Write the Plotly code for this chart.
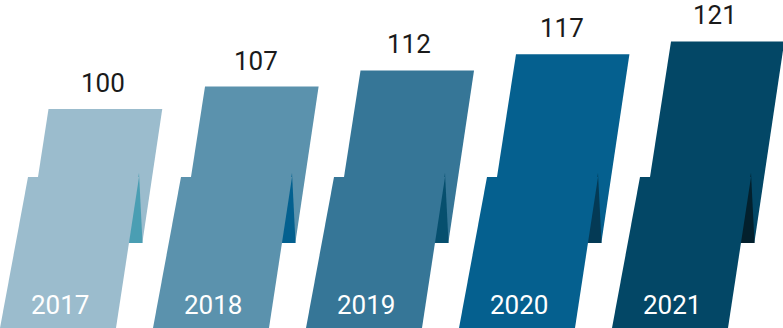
import plotly.graph_objects as go

# ---- data ----
years = ["2017", "2018", "2019", "2020", "2021"]
values = [100, 107, 112, 117, 121]
face_colors = ["#9bbccd", "#5b92ad", "#367697", "#05608f", "#034766"]
fold_colors = ["#4a9eb3", "#03608f", "#064f6e", "#043a55", "#03202d"]

# ---- layout geometry (pixels) ----
W, H = 783, 328
PITCH = 153          # horizontal distance between columns
A, B = 431.6, 3.225  # value -> pixel mapping: p = A - B*v


def vpix(v):
    return A - B * v


def pval(p):
    return (A - p) / B


STEP = 177   # pixel level where the lower block starts
BASE = 243   # pixel level of the fold base
BOT = 340    # below the visible bottom

fig = go.Figure()

for i, (yr, v) in enumerate(zip(years, values)):
    x0 = i * PITCH
    yt = vpix(v)

    def lx(y):
        return x0 + 38 + 0.155 * (STEP - y)

    def rx(y):
        return x0 + 142.3 + 0.149 * (BASE - y)

    top = [(lx(yt), yt), (rx(yt), yt), (rx(BASE), BASE), (lx(BASE), BASE)]
    tri = [(x0 + 139, 173), (x0 + 142.5, BASE), (x0 + 127, BASE)]

    def blx(y):
        return x0 + 28 - 0.1854 * (y - STEP)

    def brx(y):
        return x0 + 139 - 0.1523 * (y - STEP)

    bottom = [(blx(STEP), STEP), (brx(STEP), STEP), (brx(BOT), BOT), (blx(BOT), BOT)]

    for poly, col in ((top, face_colors[i]), (tri, fold_colors[i]), (bottom, face_colors[i])):
        xs = [p[0] for p in poly] + [poly[0][0]]
        ys = [pval(p[1]) for p in poly] + [pval(poly[0][1])]
        fig.add_trace(go.Scatter(x=xs, y=ys, mode="lines", fill="toself",
                                 fillcolor=col, line=dict(width=0),
                                 hoverinfo="skip", showlegend=False))

    fig.add_annotation(x=x0 + 103, y=pval(yt - 26), text=str(v), showarrow=False,
                       xanchor="center", yanchor="middle",
                       font=dict(family="Roboto", size=26, color="#1a1a1a"))
    fig.add_annotation(x=x0 + 60, y=pval(304.5), text=yr, showarrow=False,
                       xanchor="center", yanchor="middle",
                       font=dict(family="Roboto", size=26, color="#ffffff"))

fig.update_layout(
    width=W, height=H,
    margin=dict(l=0, r=0, t=0, b=0),
    paper_bgcolor="white", plot_bgcolor="white",
    xaxis=dict(range=[0, W], visible=False, fixedrange=True),
    yaxis=dict(range=[pval(H), pval(0)], visible=False, fixedrange=True),
)

fig.write_html("out.html")
